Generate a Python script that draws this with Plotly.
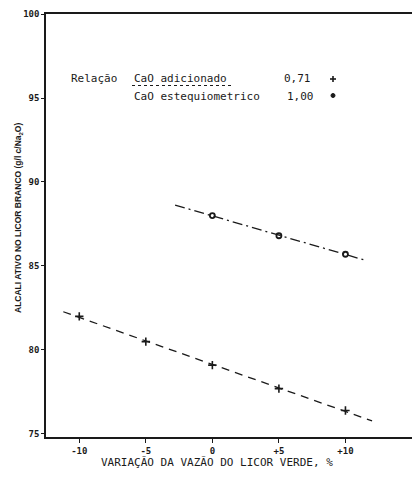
import numpy as np
import plotly.graph_objects as go

# ---- data ----
x_ratio071 = [-10, -5, 0, 5, 10]
y_ratio071 = [82.0, 80.5, 79.1, 77.7, 76.4]
x_ratio100 = [0, 5, 10]
y_ratio100 = [88.0, 86.8, 85.7]
# extent of the drawn fit lines
fit_x_071 = [-11.2, 12.0]
fit_x_100 = [-2.8, 11.4]
x_tickvals = [-10, -5, 0, 5, 10]
x_ticktext = ["-10", "-5", "0", "+5", "+10"]
y_tickvals = [75, 80, 85, 90, 95, 100]
ratio_labels = ["0,71", "1,00"]

INK = "#1a1a1a"
MONO = "DejaVu Sans Mono"

def fit(xs, ys, ext):
    p = np.polyfit(xs, ys, 1)
    ex = np.array(ext, dtype=float)
    return ex, np.polyval(p, ex)

fx1, fy1 = fit(x_ratio071, y_ratio071, fit_x_071)
fx2, fy2 = fit(x_ratio100, y_ratio100, fit_x_100)

fig = go.Figure()
fig.add_trace(go.Scatter(x=fx1, y=fy1, mode="lines",
                         line=dict(color=INK, width=1.3, dash="8px,6px"),
                         showlegend=False, hoverinfo="skip"))
fig.add_trace(go.Scatter(x=fx2, y=fy2, mode="lines",
                         line=dict(color=INK, width=1.3, dash="10px,4px,2px,4px"),
                         showlegend=False, hoverinfo="skip"))
fig.add_trace(go.Scatter(x=x_ratio071, y=y_ratio071, mode="markers",
                         marker=dict(symbol="cross-thin", size=6, line=dict(color=INK, width=1.6)),
                         showlegend=False))
fig.add_trace(go.Scatter(x=x_ratio100, y=y_ratio100, mode="markers",
                         marker=dict(symbol="circle-open", size=5, color=INK, line=dict(color=INK, width=1.8)),
                         showlegend=False))

L, T, W, H = 46, 14, 366, 423
def px(x):
    return (x - L) / W
def py(y):
    return (T + H - y) / H

ann = []
txt = dict(font=dict(family=MONO, size=11, color=INK), showarrow=False,
           xref="paper", yref="paper", xanchor="left", yanchor="middle")
ann.append(dict(text="Relação", x=px(69), y=py(78), **txt))
ann.append(dict(text="CaO adicionado", x=px(131.5), y=py(78), **txt))
ann.append(dict(text="CaO estequiometrico", x=px(131.5), y=py(96.5), **txt))
ann.append(dict(text=ratio_labels[0], x=px(282), y=py(78), **txt))
ann.append(dict(text=ratio_labels[1], x=px(285), y=py(96.5), **txt))
# y-axis title
ann.append(dict(text="<b>ALCALI ATIVO NO LICOR BRANCO (g/l c/Na<sub>2</sub>O)</b>",
                x=px(18), y=py(218), textangle=-90, showarrow=False,
                xref="paper", yref="paper", xanchor="center", yanchor="middle",
                font=dict(family="Liberation Sans", size=8.5, color=INK)))
# x-axis title
ann.append(dict(text="VARIAÇÃO DA VAZÃO DO LICOR VERDE, %",
                x=px(217), y=py(462), showarrow=False,
                xref="paper", yref="paper", xanchor="center", yanchor="middle",
                font=dict(family=MONO, size=11, color=INK)))

pl = dict(xref="paper", yref="paper", xsizemode="pixel", ysizemode="pixel")
shapes = [
    dict(type="line", xref="paper", yref="paper", x0=px(132), x1=px(234),
         y0=py(85.5), y1=py(85.5), line=dict(color=INK, width=1, dash="dot")),
    # legend key "+"
    dict(type="line", xanchor=px(333), yanchor=py(79), x0=-3, x1=3, y0=0, y1=0,
         line=dict(color=INK, width=1.6), **pl),
    dict(type="line", xanchor=px(333), yanchor=py(79), x0=0, x1=0, y0=-3, y1=3,
         line=dict(color=INK, width=1.6), **pl),
    # legend key dot
    dict(type="circle", xanchor=px(333), yanchor=py(95.5), x0=-2, x1=2, y0=-2, y1=2,
         fillcolor=INK, line=dict(color=INK, width=1), **pl),
]

fig.update_layout(
    width=412, height=477,
    margin=dict(l=L, r=412 - L - W, t=T, b=477 - T - H),
    paper_bgcolor="white", plot_bgcolor="white",
    annotations=ann, shapes=shapes,
    xaxis=dict(range=[-12.5, 15.0], tickvals=x_tickvals, ticktext=[f"<b>{t}</b>" for t in x_ticktext],
               showgrid=False, zeroline=False, showline=True, linecolor=INK, linewidth=1.5,
               mirror=True, ticks="outside", ticklen=4, tickwidth=1, tickcolor=INK,
               tickfont=dict(family=MONO, size=9, color=INK)),
    yaxis=dict(range=[74.82, 100], tickvals=y_tickvals,
               ticktext=[f"<b>{v}</b>" for v in y_tickvals],
               showgrid=False, zeroline=False, showline=True, linecolor=INK, linewidth=1.5,
               ticks="outside", ticklen=3, tickwidth=1, tickcolor=INK,
               tickfont=dict(family=MONO, size=9, color=INK)),
)

fig.write_html("out.html")
